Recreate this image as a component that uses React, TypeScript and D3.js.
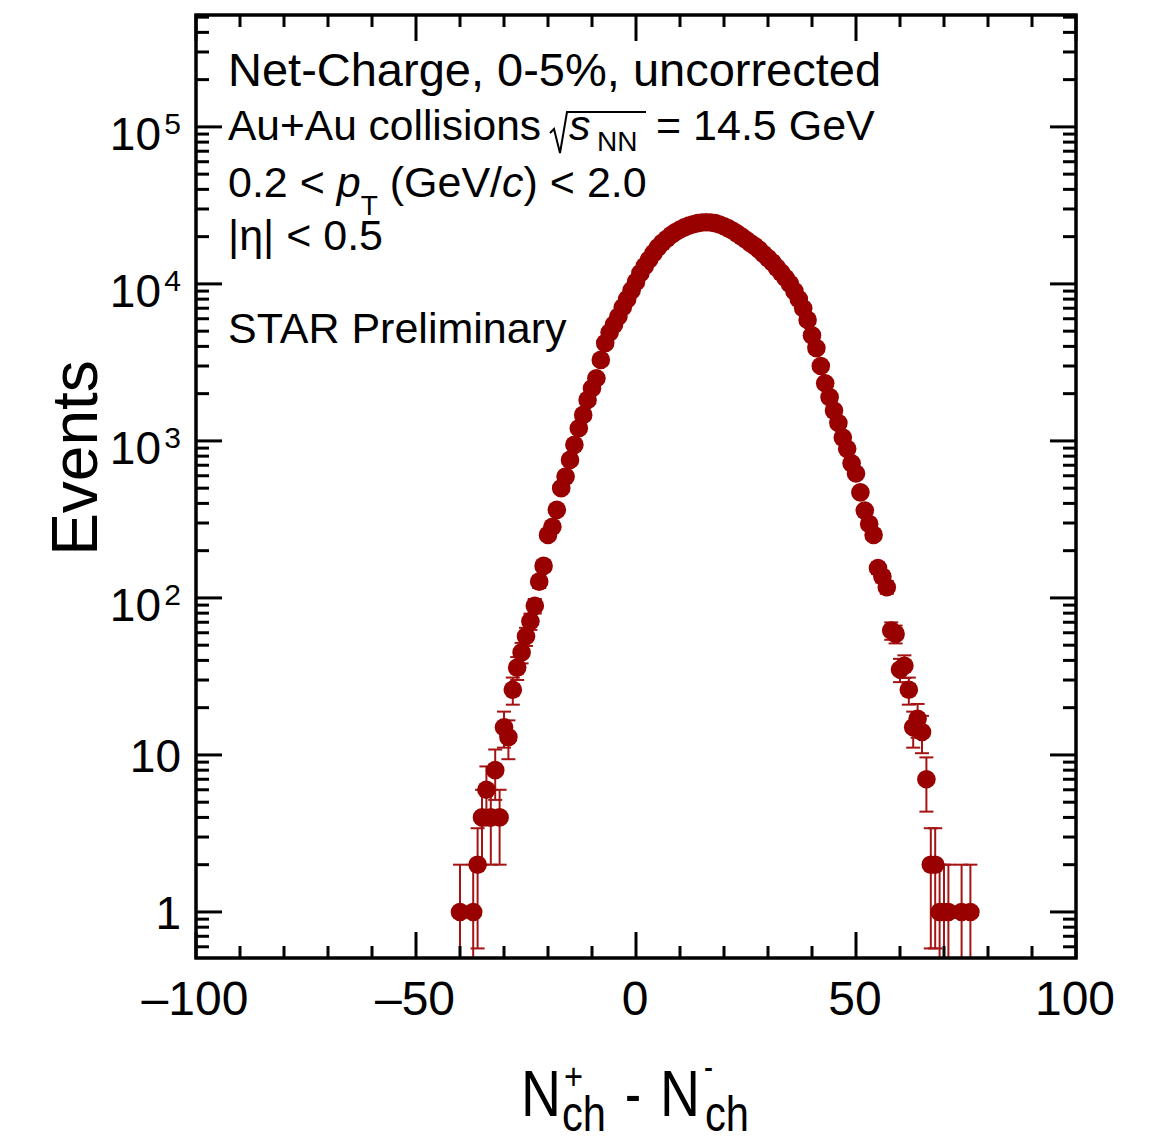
import React from 'react';
import * as d3 from 'd3';

// N+ch - N-ch bins (integer net charge) and event counts
const netCharge = [
  -40, -37, -36, -35, -34, -33, -32, -31, -30, -29, -28, -27, -26, -25, -24, -23, -22, -21, -20, -19,
  -18, -17, -16, -15, -14, -13, -12, -11, -10, -9, -8, -7, -6, -5, -4, -3, -2, -1, 0, 1,
  2, 3, 4, 5, 6, 7, 8, 9, 10, 11, 12, 13, 14, 15, 16, 17, 18, 19, 20, 21,
  22, 23, 24, 25, 26, 27, 28, 29, 30, 31, 32, 33, 34, 35, 36, 37, 38, 39, 40, 41,
  42, 43, 44, 45, 46, 47, 48, 49, 50, 51, 52, 53, 54, 55, 56, 57, 58, 59, 60, 61,
  62, 63, 64, 65, 66, 67, 68, 69, 70, 71, 74, 76,
];
const events = [
  1, 1, 2, 4, 6, 4, 8, 4, 15, 13, 26, 36, 45, 57, 71, 89, 127, 160, 252, 284,
  364, 500, 593, 757, 944, 1205, 1465, 1825, 2166, 2508, 3281, 4200, 4900, 5500, 6200, 7100, 8000, 9100, 10300, 11700,
  13000, 14300, 15700, 17100, 18300, 19400, 20500, 21400, 22200, 22900, 23500, 24000, 24400, 24600, 24700, 24600, 24400, 23900, 23300, 22600,
  21800, 20900, 20000, 19100, 18200, 17400, 16500, 15500, 14600, 13700, 12700, 11800, 10900, 10000, 9000, 8000, 7000, 5900, 4700, 3900,
  3000, 2330, 1900, 1560, 1300, 1050, 890, 720, 620, 470, 360, 296, 252, 155, 137, 117, 62, 59, 35, 37,
  26, 15, 17, 14, 7, 2, 2, 1, 1, 1, 1, 1,
];

const xTickValues = [-100, -50, 0, 50, 100];
const xTickLabels = ['\u2013100', '\u201350', '0', '50', '100'];
const yTickValues = [1, 10, 100, 1000, 10000, 100000];
const yTickBase = ['1', '10', '10', '10', '10', '10'];
const yTickExp = ['', '', '2', '3', '4', '5'];

const W = 1158;
const H = 1137;
const FONT = '"Liberation Sans", Arial, Helvetica, sans-serif';
const MARKER = '#990000';
const ERR = '#a51414';

export default function App() {
  const L = 196, R = 1076, T = 15, B = 958;
  const x = d3.scaleLinear().domain([-100, 100]).range([L, R]);
  const y = d3.scaleLog().domain([0.509, 516000]).range([B, T]);

  const xMinor = d3.range(-100, 101, 10);
  const yMinor: number[] = [];
  for (let d = -1; d <= 5; d++) {
    for (let k = 2; k <= 9; k++) {
      const v = k * Math.pow(10, d);
      if (v > 0.509 && v < 516000) yMinor.push(v);
    }
  }

  const pts = netCharge.map((c, i) => ({ c, n: events[i] }));
  const cap = 7;

  return (
    <svg width={W} height={H} style={{ position: 'absolute', left: 0, top: 0, background: '#fff' }}
      fontFamily={FONT}>
      <defs>
        <clipPath id="plotClip">
          <rect x={L} y={T} width={R - L} height={B - T} />
        </clipPath>
      </defs>
      <rect x={0} y={0} width={W} height={H} fill="#fff" />

      {/* error bars */}
      <g clipPath="url(#plotClip)" stroke={ERR} strokeWidth={2} fill="none">
        {pts.map((p, i) => {
          const e = Math.sqrt(p.n);
          const hi = p.n + e;
          const lo = p.n - e;
          const yHi = y(hi);
          const yLo = lo > 0 ? y(lo) : B + 5;
          const cx = x(p.c);
          return (
            <g key={i}>
              <line x1={cx} x2={cx} y1={yHi} y2={yLo} />
              <line x1={cx - cap} x2={cx + cap} y1={yHi} y2={yHi} />
              {lo > 0 && <line x1={cx - cap} x2={cx + cap} y1={yLo} y2={yLo} />}
            </g>
          );
        })}
      </g>

      {/* markers */}
      <g clipPath="url(#plotClip)" fill={MARKER}>
        {pts.map((p, i) => (
          <circle key={i} cx={x(p.c)} cy={y(p.n)} r={9.3} />
        ))}
      </g>

      {/* ticks */}
      <g stroke="#000" strokeWidth={3}>
        {xMinor.map((v) => {
          const len = v % 50 === 0 ? 26 : 12;
          return (
            <g key={'xt' + v}>
              <line x1={x(v)} x2={x(v)} y1={B} y2={B - len} />
              <line x1={x(v)} x2={x(v)} y1={T} y2={T + len} />
            </g>
          );
        })}
        {yTickValues.map((v) => (
          <g key={'yt' + v}>
            <line x1={L} x2={L + 26} y1={y(v)} y2={y(v)} />
            <line x1={R} x2={R - 26} y1={y(v)} y2={y(v)} />
          </g>
        ))}
        {yMinor.map((v) => (
          <g key={'ym' + v}>
            <line x1={L} x2={L + 13} y1={y(v)} y2={y(v)} />
            <line x1={R} x2={R - 13} y1={y(v)} y2={y(v)} />
          </g>
        ))}
      </g>

      {/* frame */}
      <rect x={L} y={T} width={R - L} height={B - T} fill="none" stroke="#000" strokeWidth={3.5} />

      {/* x tick labels */}
      <g fontSize={48} textAnchor="middle" fill="#000">
        {xTickValues.map((v, i) => (
          <text key={'xl' + v} x={x(v) - 1} y={1015}>{xTickLabels[i]}</text>
        ))}
      </g>

      {/* y tick labels */}
      <g fontSize={46} textAnchor="end" fill="#000">
        {yTickValues.map((v, i) => {
          const ty = y(v);
          if (yTickExp[i] === '') {
            return <text key={'yl' + v} x={181} y={ty + 17}>{yTickBase[i]}</text>;
          }
          return (
            <g key={'yl' + v}>
              <text x={161} y={ty + 23}>{yTickBase[i]}</text>
              <text x={181} y={ty + 7} fontSize={30}>{yTickExp[i]}</text>
            </g>
          );
        })}
      </g>

      {/* axis titles */}
      <text transform="translate(97,458) rotate(-90)" textAnchor="middle" fontSize={64} fill="#000">Events</text>

      <g fill="#000">
        <text x={521} y={1116} fontSize={64} textLength={40} lengthAdjust="spacingAndGlyphs">N</text>
        <text x={564} y={1089} fontSize={36} textLength={19} lengthAdjust="spacingAndGlyphs">+</text>
        <text x={562} y={1131} fontSize={50} textLength={44} lengthAdjust="spacingAndGlyphs">ch</text>
        <text x={625} y={1116} fontSize={64} textLength={16} lengthAdjust="spacingAndGlyphs">-</text>
        <text x={660} y={1116} fontSize={64} textLength={40} lengthAdjust="spacingAndGlyphs">N</text>
        <text x={704} y={1080} fontSize={38} textLength={9} lengthAdjust="spacingAndGlyphs">-</text>
        <text x={705} y={1131} fontSize={50} textLength={44} lengthAdjust="spacingAndGlyphs">ch</text>
      </g>

      {/* annotation block */}
      <g fill="#000">
        <text x={228} y={86} fontSize={47}>Net-Charge, 0-5%, uncorrected</text>
        <text x={228} y={140} fontSize={42.5}>Au+Au collisions</text>
        <path d="M550,133 L554,129 L560,153 L567,112 L646,112" fill="none" stroke="#000" strokeWidth={2} />
        <text x={569} y={140} fontSize={43} fontStyle="italic">s</text>
        <text x={597} y={151} fontSize={28}>NN</text>
        <text x={656} y={140} fontSize={43}>= 14.5 GeV</text>
        <text x={228} y={197} fontSize={43}>
          0.2 &lt; <tspan fontStyle="italic">p</tspan>
          <tspan fontSize={28} dy={18}>T</tspan>
          <tspan dy={-18}> (GeV/</tspan>
          <tspan fontStyle="italic">c</tspan>
          <tspan>) &lt; 2.0</tspan>
        </text>
        <text x={228} y={250} fontSize={43}>|η| &lt; 0.5</text>
        <text x={228} y={343} fontSize={43}>STAR Preliminary</text>
      </g>
    </svg>
  );
}
